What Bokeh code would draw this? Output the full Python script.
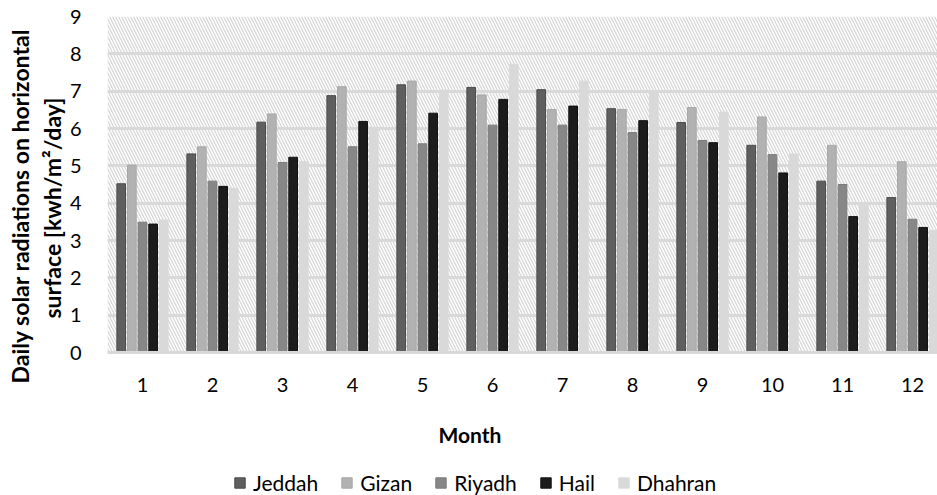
import numpy as np
from bokeh.plotting import figure
from bokeh.layouts import column
from bokeh.models import (BoxAnnotation, Legend, LegendItem, FixedTicker, Range1d,
                          Title, Label)
from bokeh.embed import file_html
from bokeh.resources import INLINE

months = [1, 2, 3, 4, 5, 6, 7, 8, 9, 10, 11, 12]
series_names = ["Jeddah", "Gizan", "Riyadh", "Hail", "Dhahran"]
jeddah = [4.52, 5.32, 6.17, 6.88, 7.17, 7.10, 7.04, 6.53, 6.16, 5.55, 4.59, 4.15]
gizan = [5.02, 5.51, 6.39, 7.12, 7.27, 6.90, 6.51, 6.51, 6.56, 6.31, 5.55, 5.11]
riyadh = [3.49, 4.59, 5.09, 5.51, 5.59, 6.09, 6.09, 5.89, 5.68, 5.30, 4.50, 3.57]
hail = [3.44, 4.45, 5.23, 6.19, 6.41, 6.78, 6.60, 6.21, 5.62, 4.81, 3.64, 3.35]
dhahran = [3.55, 4.40, 5.11, 6.03, 7.03, 7.72, 7.27, 6.99, 6.44, 5.32, 4.00, 3.27]
y_ticks = [0, 1, 2, 3, 4, 5, 6, 7, 8, 9]

series = [jeddah, gizan, riyadh, hail, dhahran]
colors = ["#5f5f5f", "#b2b2b2", "#878787", "#1c1c1c", "#d9d9d9"]
outlines = ["#4a4a4a", "#a8a8a8", "#7a7a7a", "#111111", "#d9d9d9"]

FONT = "Lato"
W = 937
LEFT = 107

# ---------------- main chart ----------------
p = figure(width=W, height=404, output_backend="svg", toolbar_location=None,
           x_range=Range1d(0.5, 12.357), y_range=Range1d(0, 9),
           min_border_left=LEFT, min_border_right=0, min_border_top=16,
           min_border_bottom=52)
p.outline_line_color = None
p.background_fill_color = "white"

hatch = BoxAnnotation(fill_alpha=0, line_alpha=0, hatch_pattern="\\",
                      hatch_scale=6, hatch_weight=1.2, hatch_color="#d4d4d4",
                      level="image")
p.add_layout(hatch)

p.xgrid.grid_line_color = None
p.ygrid.grid_line_color = "#d9d9d9"
p.ygrid.grid_line_width = 3
p.ygrid.ticker = FixedTicker(ticks=y_ticks)

p.yaxis.ticker = FixedTicker(ticks=y_ticks)
p.yaxis.axis_line_color = None
p.yaxis.major_tick_line_color = None
p.yaxis.minor_tick_line_color = None
p.yaxis.major_label_standoff = 20
p.yaxis.major_label_text_font = FONT
p.yaxis.major_label_text_font_size = "20px"
p.yaxis.major_label_text_color = "#000000"

p.xaxis.ticker = FixedTicker(ticks=months)
p.xaxis.axis_line_color = "#d9d9d9"
p.xaxis.axis_line_width = 3
p.xaxis.major_tick_line_color = None
p.xaxis.minor_tick_line_color = None
p.xaxis.major_label_standoff = 19
p.xaxis.major_label_text_font = FONT
p.xaxis.major_label_text_font_size = "20px"
p.xaxis.major_label_text_color = "#000000"

m = np.array(months, dtype=float)
spacing = 0.152
bar_w = 0.124
for i, vals in enumerate(series):
    p.vbar(x=m + (i - 2) * spacing, top=vals, width=bar_w,
           fill_color=colors[i], line_color=outlines[i], line_width=1)

ytitle = dict(text_font=FONT, text_font_style="bold", text_font_size="23px",
              text_color="#000000")
p.add_layout(Title(text="surface [kwh/m\u00b2/day]", align="left", offset=34,
                   standoff=2, **ytitle), "left")
p.add_layout(Title(text="Daily solar radiations on horizontal", align="left",
                   offset=-31, standoff=2, **ytitle), "left")

# ---------------- axis title + legend strip ----------------
H2 = 91
TOP2 = 16
q = figure(width=W, height=H2, output_backend="svg", toolbar_location=None,
           x_range=Range1d(LEFT, W), y_range=Range1d(0, H2 - TOP2),
           x_axis_location=None, y_axis_location=None,
           min_border_left=LEFT, min_border_right=0, min_border_top=TOP2,
           min_border_bottom=0)
q.outline_line_color = None
q.grid.visible = False

q.add_layout(Label(x=469.5, y=61, text="Month", text_align="center",
                   text_baseline="alphabetic", text_font=FONT,
                   text_font_style="bold", text_font_size="21px",
                   text_color="#000000"))

items = []
for i, name in enumerate(series_names):
    # legend swatch source, drawn outside the visible range
    r = q.vbar(x=[0], top=[0], width=0, fill_color=colors[i], line_color=outlines[i])
    items.append(LegendItem(label=name, renderers=[r]))

legend = Legend(items=items, orientation="horizontal", location=(233 - LEFT, 0),
                glyph_width=13, glyph_height=13, label_standoff=7, spacing=22,
                padding=0, margin=0, border_line_color=None,
                background_fill_alpha=0, label_text_font=FONT,
                label_text_font_size="21px", label_text_color="#000000")
q.add_layout(legend)

layout = column(p, q, spacing=0)
open("out.html", "w").write(file_html(layout, INLINE))
